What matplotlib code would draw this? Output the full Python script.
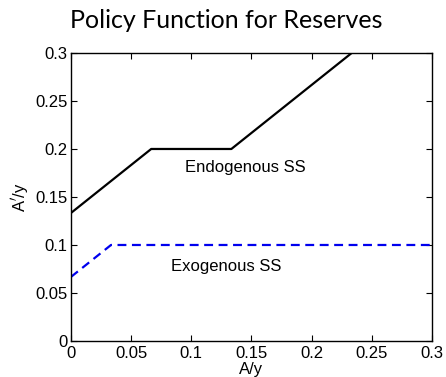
import numpy as np
import matplotlib.pyplot as plt

plt.rcParams['font.family'] = ['Liberation Sans', 'DejaVu Sans']

# policy functions
endo_x = [0.0, 0.0667, 0.1333, 0.2333]
endo_y = [0.1333, 0.2, 0.2, 0.3]
exo_x = [0.0, 0.0333, 0.3]
exo_y = [0.0667, 0.1, 0.1]
ticks = [0, 0.05, 0.1, 0.15, 0.2, 0.25, 0.3]
tick_labels = ['0', '0.05', '0.1', '0.15', '0.2', '0.25', '0.3']

fig = plt.figure(figsize=(4.46, 3.77), dpi=100)
ax = fig.add_axes([0.159, 0.0955, 0.8096, 0.764])

ax.plot(endo_x, endo_y, '-', color='black', lw=1.6)
ax.plot(exo_x, exo_y, '--', color='#0000ee', lw=1.6, dashes=(4, 2.5))

ax.text(0.0947, 0.1805, 'Endogenous SS', fontsize=12, va='center')
ax.text(0.083, 0.0774, 'Exogenous SS', fontsize=12, va='center')

ax.set_xlim(0, 0.3)
ax.set_ylim(0, 0.3)
ax.set_xticks(ticks)
ax.set_xticklabels(tick_labels)
ax.set_yticks(ticks)
ax.set_yticklabels(tick_labels)
ax.tick_params(axis='x', direction='in', top=True, labelsize=12, length=4, pad=3.5)
ax.tick_params(axis='y', direction='in', right=True, labelsize=12, length=4, pad=2.5)
for s in ax.spines.values():
    s.set_linewidth(1.0)

ax.set_xlabel('A/y', fontsize=12, labelpad=0.5)
ax.set_ylabel("A$'$/y", fontsize=12, labelpad=3)
fig.suptitle('Policy Function for Reserves', fontsize=18, family='Lato', x=0.507, y=0.975, va='top')

fig.savefig('out.png', dpi=100)
